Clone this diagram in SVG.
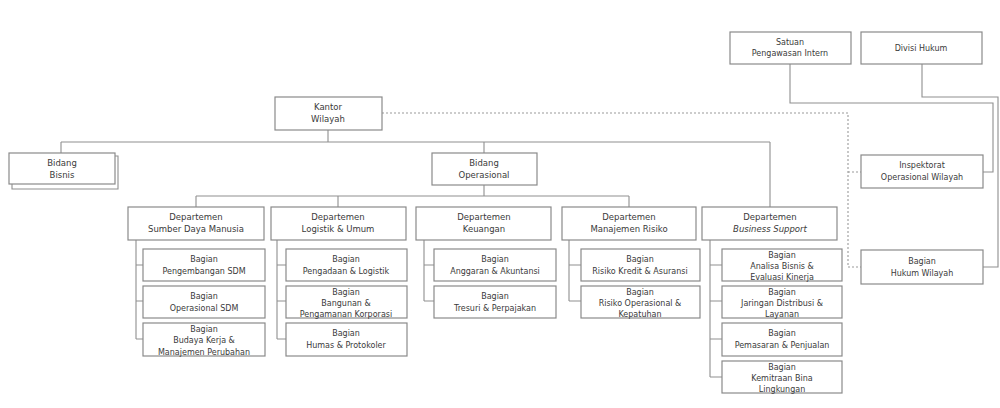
<svg xmlns="http://www.w3.org/2000/svg" width="1000" height="408" viewBox="0 0 1000 408">
<style>
.b{fill:#fff;stroke:#8a8a8a;stroke-width:1.2}
.c{fill:none;stroke:#8f8f8f;stroke-width:1.1}
.d{fill:none;stroke:#9a9a9a;stroke-width:1.1;stroke-dasharray:2 2}
text{font-family:"DejaVu Sans","Liberation Sans",sans-serif;font-size:8px;fill:#3a3a3a;text-anchor:middle}
.h{font-size:8.5px}
</style>
<rect width="1000" height="408" fill="#fff"/>
<g id="connectors">
<path class="c" d="M328 130V142M61 142H770M61 142V153M484 142V153M770 142V207"/>
<path class="c" d="M484 185V196M196 196H629M196 196V207M338 196V207M629 196V207"/>
<path class="c" d="M136 240V339M136 265H143M136 301H143M136 339H143"/>
<path class="c" d="M277 240V339M277 265H286M277 301H286M277 339H286"/>
<path class="c" d="M424 240V301M424 265H434M424 301H434"/>
<path class="c" d="M569 240V301M569 265H581M569 301H581"/>
<path class="c" d="M710 240V377M710 265H722M710 301H722M710 339H722M710 377H722"/>
<path class="c" d="M790 64V103H993V172H983"/>
<path class="c" d="M922 64V97H998V267H983"/>
<path class="d" d="M382 113H848V267H861M848 172H861"/>
</g>
<g id="kantor-wilayah"><rect class="b" x="275" y="97" width="107" height="33"/><text class="h" x="328" y="110">Kantor</text><text class="h" x="328" y="122">Wilayah</text></g>
<g id="bidang-bisnis"><path class="c" d="M115 156H118V189H12V184"/><rect class="b" x="9" y="153" width="106" height="31"/><text class="h" x="62" y="166">Bidang</text><text class="h" x="62" y="178">Bisnis</text></g>
<g id="bidang-operasional"><rect class="b" x="432" y="153" width="105" height="32"/><text class="h" x="484" y="166">Bidang</text><text class="h" x="484" y="178">Operasional</text></g>
<g id="satuan-pengawasan-intern"><rect class="b" x="730" y="32" width="121" height="32"/><text x="790" y="45">Satuan</text><text x="790" y="56">Pengawasan Intern</text></g>
<g id="divisi-hukum"><rect class="b" x="861" y="32" width="121" height="32"/><text x="921" y="51">Divisi Hukum</text></g>
<g id="inspektorat"><rect class="b" x="861" y="155" width="122" height="33"/><text x="922" y="168">Inspektorat</text><text x="922" y="180">Operasional Wilayah</text></g>
<g id="hukum-wilayah"><rect class="b" x="861" y="250" width="122" height="34"/><text x="922" y="264">Bagian</text><text x="922" y="276">Hukum Wilayah</text></g>
<g id="dept-sdm"><rect class="b" x="128" y="207" width="136" height="33"/><text class="h" x="196" y="220">Departemen</text><text class="h" x="196" y="232">Sumber Daya Manusia</text></g>
<g id="dept-logistik"><rect class="b" x="271" y="207" width="135" height="33"/><text class="h" x="338" y="220">Departemen</text><text class="h" x="338" y="232">Logistik &amp; Umum</text></g>
<g id="dept-keuangan"><rect class="b" x="416" y="207" width="135" height="33"/><text class="h" x="484" y="220">Departemen</text><text class="h" x="484" y="232">Keuangan</text></g>
<g id="dept-risiko"><rect class="b" x="562" y="207" width="134" height="33"/><text class="h" x="629" y="220">Departemen</text><text class="h" x="629" y="232">Manajemen Risiko</text></g>
<g id="dept-bs"><rect class="b" x="702" y="207" width="135" height="33"/><text class="h" x="770" y="220">Departemen</text><text class="h" x="770" y="232" font-style="italic">Business Support</text></g>
<g id="sdm-1"><rect class="b" x="143" y="249" width="122" height="32"/><text x="204" y="262">Bagian</text><text x="204" y="274">Pengembangan SDM</text></g>
<g id="sdm-2"><rect class="b" x="143" y="286" width="122" height="32"/><text x="204" y="299">Bagian</text><text x="204" y="311">Operasional SDM</text></g>
<g id="sdm-3"><rect class="b" x="143" y="323" width="122" height="33"/><text x="204" y="332">Bagian</text><text x="204" y="343">Budaya Kerja &amp;</text><text x="204" y="355">Manajemen Perubahan</text></g>
<g id="log-1"><rect class="b" x="286" y="249" width="121" height="32"/><text x="346" y="262">Bagian</text><text x="346" y="274">Pengadaan &amp; Logistik</text></g>
<g id="log-2"><rect class="b" x="286" y="286" width="121" height="32"/><text x="346" y="295">Bagian</text><text x="346" y="306">Bangunan &amp;</text><text x="346" y="317">Pengamanan Korporasi</text></g>
<g id="log-3"><rect class="b" x="286" y="323" width="121" height="33"/><text x="346" y="336">Bagian</text><text x="346" y="348">Humas &amp; Protokoler</text></g>
<g id="keu-1"><rect class="b" x="434" y="249" width="122" height="32"/><text x="495" y="262">Bagian</text><text x="495" y="274">Anggaran &amp; Akuntansi</text></g>
<g id="keu-2"><rect class="b" x="434" y="286" width="122" height="32"/><text x="495" y="299">Bagian</text><text x="495" y="311">Tresuri &amp; Perpajakan</text></g>
<g id="ris-1"><rect class="b" x="581" y="249" width="119" height="32"/><text x="640" y="262">Bagian</text><text x="640" y="274">Risiko Kredit &amp; Asuransi</text></g>
<g id="ris-2"><rect class="b" x="581" y="286" width="119" height="32"/><text x="640" y="295">Bagian</text><text x="640" y="306">Risiko Operasional &amp;</text><text x="640" y="317">Kepatuhan</text></g>
<g id="bs-1"><rect class="b" x="722" y="249" width="120" height="32"/><text x="782" y="258">Bagian</text><text x="782" y="269">Analisa Bisnis &amp;</text><text x="782" y="280">Evaluasi Kinerja</text></g>
<g id="bs-2"><rect class="b" x="722" y="286" width="120" height="32"/><text x="782" y="295">Bagian</text><text x="782" y="306">Jaringan Distribusi &amp;</text><text x="782" y="317">Layanan</text></g>
<g id="bs-3"><rect class="b" x="722" y="323" width="120" height="33"/><text x="782" y="336">Bagian</text><text x="782" y="348">Pemasaran &amp; Penjualan</text></g>
<g id="bs-4"><rect class="b" x="722" y="361" width="120" height="32"/><text x="782" y="370">Bagian</text><text x="782" y="381">Kemitraan Bina</text><text x="782" y="392">Lingkungan</text></g>
</svg>
